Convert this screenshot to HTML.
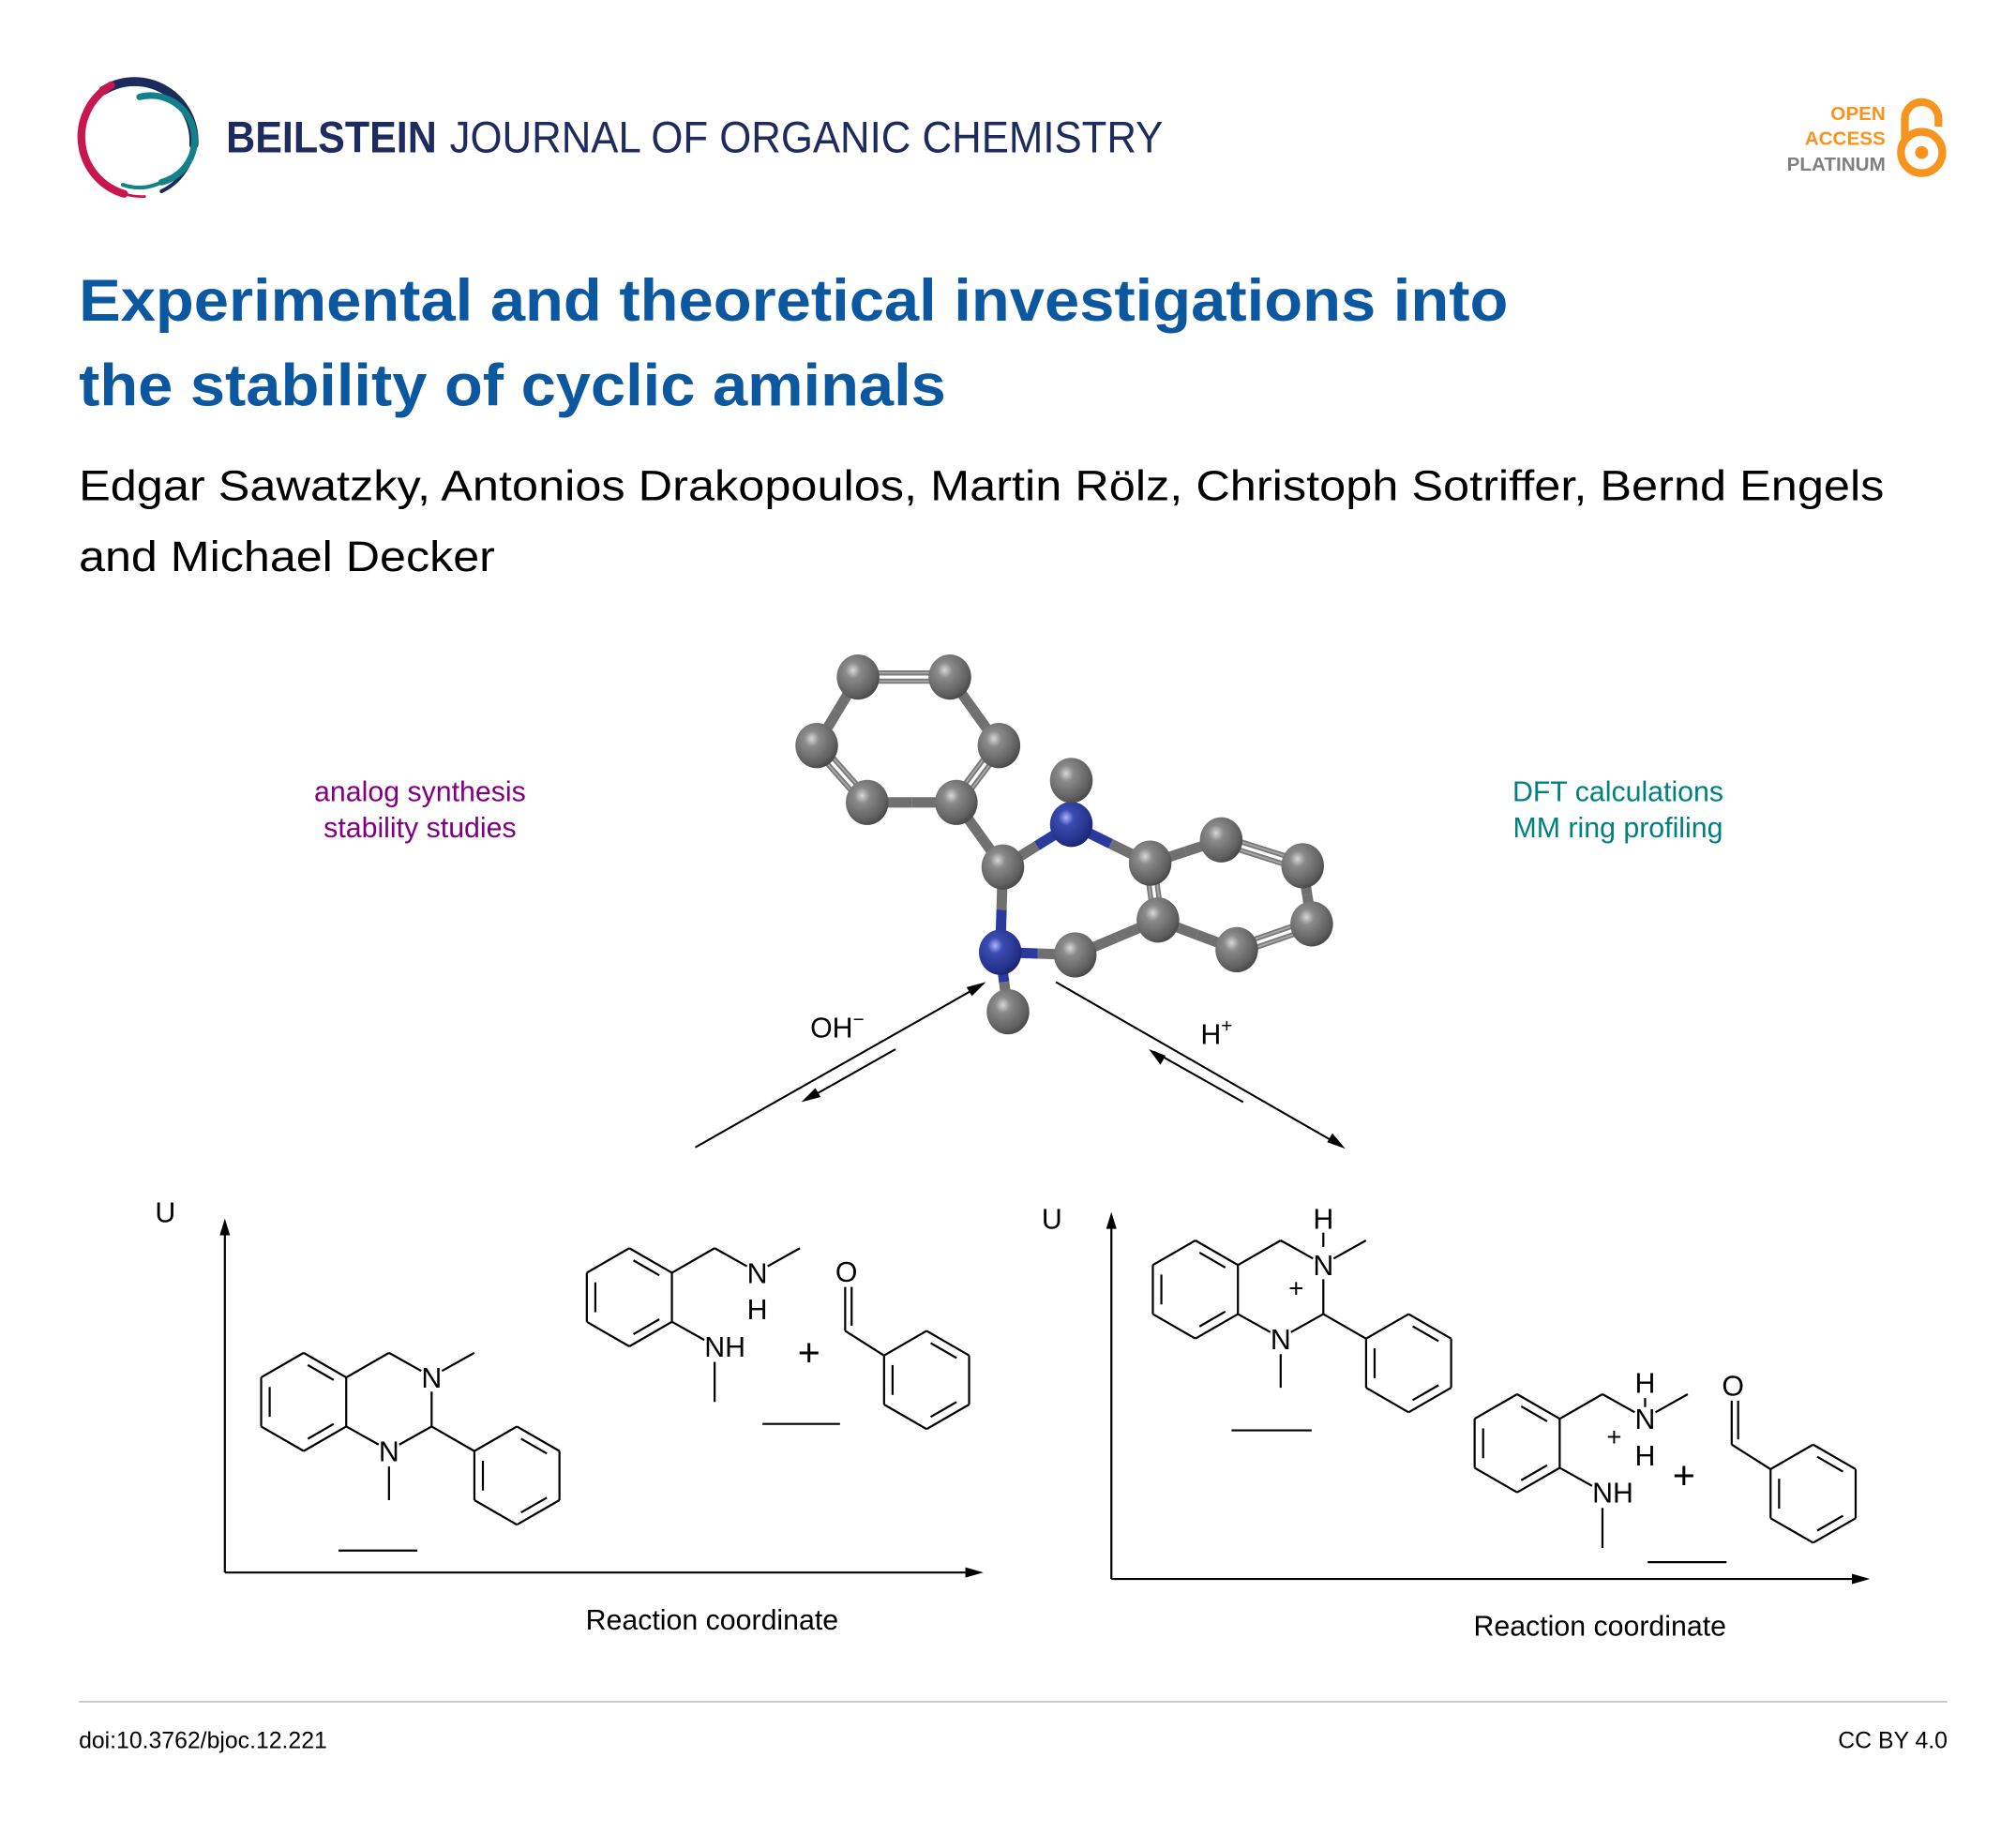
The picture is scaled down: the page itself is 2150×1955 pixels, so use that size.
<!DOCTYPE html>
<html><head><meta charset="utf-8">
<style>
html,body{margin:0;padding:0;background:#fff;}
svg{display:block;}
text{font-family:"Liberation Sans",Arial,sans-serif;}
</style></head>
<body>
<svg id="s" xmlns="http://www.w3.org/2000/svg" width="2150" height="1955" viewBox="0 0 1560 1418.6" preserveAspectRatio="none">
<defs>
<radialGradient id="gC" cx="0.38" cy="0.35" r="0.7">
<stop offset="0" stop-color="#d8d8d8"/><stop offset="0.25" stop-color="#8a8a8a"/><stop offset="0.8" stop-color="#5e5e5e"/><stop offset="1" stop-color="#444"/>
</radialGradient>
<radialGradient id="gN" cx="0.38" cy="0.35" r="0.7">
<stop offset="0" stop-color="#aab4ff"/><stop offset="0.25" stop-color="#3a4cb0"/><stop offset="0.8" stop-color="#24308a"/><stop offset="1" stop-color="#1a2266"/>
</radialGradient>
</defs>
<rect width="1560" height="1418.6" fill="#fff"/>
<!-- logo -->
<g fill="none" stroke-linecap="round">
<path d="M80 70 A46 46 0 0 1 150 112" stroke="#1d2a5c" stroke-width="7"/>
<path d="M150 112 A44 44 0 0 1 125 148" stroke="#1d2a5c" stroke-width="3"/>
<path d="M86 66 A46 46 0 0 0 96 150" stroke="#c8174e" stroke-width="6"/>
<path d="M96 150 A44 44 0 0 0 112 152" stroke="#c8174e" stroke-width="2"/>
<path d="M108 75 A34 34 0 0 1 125 141" stroke="#12818a" stroke-width="5"/>
<path d="M125 141 A38 38 0 0 1 95 143" stroke="#12818a" stroke-width="3"/>
</g>
<text x="175" y="118" font-size="34" font-weight="bold" fill="#1e2b5e" textLength="163" lengthAdjust="spacingAndGlyphs">BEILSTEIN</text>
<text x="348" y="118" font-size="34" fill="#1e2b5e" textLength="552" lengthAdjust="spacingAndGlyphs">JOURNAL OF ORGANIC CHEMISTRY</text>
<!-- OA -->
<g font-size="15" font-weight="bold" text-anchor="end">
<text x="1459" y="93" fill="#f7941d">OPEN</text>
<text x="1459" y="112" fill="#f7941d">ACCESS</text>
<text x="1459" y="132" fill="#808080">PLATINUM</text>
</g>
<g fill="none" stroke="#f7941d" stroke-width="6">
<path d="M1474 110 L1474 92 A13 13 0 0 1 1500 92 L1500 98"/>
<circle cx="1487" cy="118" r="16"/>
</g>
<circle cx="1487" cy="118" r="5" fill="#f7941d"/>
<!-- title -->
<text x="61" y="248" font-size="46" font-weight="bold" fill="#0b57a0" textLength="1106" lengthAdjust="spacingAndGlyphs">Experimental and theoretical investigations into</text>
<text x="61" y="314" font-size="46" font-weight="bold" fill="#0b57a0" textLength="671" lengthAdjust="spacingAndGlyphs">the stability of cyclic aminals</text>
<text x="61" y="387" font-size="33" fill="#000" textLength="1397" lengthAdjust="spacingAndGlyphs">Edgar Sawatzky, Antonios Drakopoulos, Martin Rölz, Christoph Sotriffer, Bernd Engels</text>
<text x="61" y="442" font-size="33" fill="#000" textLength="322" lengthAdjust="spacingAndGlyphs">and Michael Decker</text>
<!-- side labels -->
<g font-size="22" text-anchor="middle">
<text x="325" y="620" fill="#800080">analog synthesis</text>
<text x="325" y="648" fill="#800080">stability studies</text>
<text x="1252" y="620" fill="#008080">DFT calculations</text>
<text x="1252" y="648" fill="#008080">MM ring profiling</text>
</g>
<g id="mol"></g>
<g id="chem" stroke="#000" stroke-width="1.6" fill="none"></g>
<g id="lab" font-size="22" fill="#000" text-anchor="middle"></g>
<!-- arrows -->
<g stroke="#000" stroke-width="1.5" fill="none">
<line x1="538" y1="888" x2="760" y2="762"/>
<line x1="693" y1="812" x2="624" y2="851"/>
<line x1="817" y1="760" x2="1038" y2="887"/>
<line x1="962" y1="853" x2="893" y2="814"/>
</g>
<g fill="#000">
<path d="M763 760 L748 764 L752 771 Z"/>
<path d="M620 853 L635 849 L631 842 Z"/>
<path d="M1041 889 L1031 877 L1027 884 Z"/>
<path d="M889 812 L898 824 L902 817 Z"/>
</g>
<text x="627" y="803" font-size="22">OH<tspan font-size="15" dy="-9">−</tspan></text>
<text x="929" y="808" font-size="22">H<tspan font-size="15" dy="-9">+</tspan></text>
<!-- axes -->
<g stroke="#000" stroke-width="1.6">
<line x1="174" y1="1217" x2="174" y2="950"/>
<line x1="174" y1="1217" x2="752" y2="1217"/>
<line x1="860" y1="1222" x2="860" y2="945"/>
<line x1="860" y1="1222" x2="1438" y2="1222"/>
</g>
<g fill="#000">
<path d="M174 943 L170 956 L178 956 Z"/>
<path d="M761 1217 L747 1213 L747 1221 Z"/>
<path d="M860 938 L856 951 L864 951 Z"/>
<path d="M1447 1222 L1433 1218 L1433 1226 Z"/>
</g>
<g font-size="22">
<text x="120" y="946">U</text>
<text x="806" y="951">U</text>
<text x="551" y="1261" text-anchor="middle">Reaction coordinate</text>
<text x="1238" y="1266" text-anchor="middle">Reaction coordinate</text>
</g>
<!-- footer -->
<line x1="61" y1="1317" x2="1507" y2="1317" stroke="#cccccc" stroke-width="1.5"/>
<text x="61" y="1353" font-size="18">doi:10.3762/bjoc.12.221</text>
<text x="1507" y="1353" font-size="18" text-anchor="end">CC BY 4.0</text>
<script>
(function(){
var NS="http://www.w3.org/2000/svg";
function el(p,n,a,t){var e=document.createElementNS(NS,n);for(var k in a)e.setAttribute(k,a[k]);if(t!=null)e.textContent=t;p.appendChild(e);return e;}
var mol=document.getElementById('mol'),chem=document.getElementById('chem'),lab=document.getElementById('lab');
// 3D molecule
var A={a1:[664,524],a2:[735,524],a3:[632,577],a4:[773,577],a5:[671,621],a6:[740,621],c2:[776,671],n1:[829,638],m1:[829,604],
c8a:[890,668],c8:[945,650],c7:[1008,670],c6:[1015,715],c5:[957,735],c4a:[896,712],c4:[832,739],n3:[774,737],m3:[780,783]};
var B=[["a1","a2",2],["a2","a4",1],["a4","a6",2],["a6","a5",1],["a5","a3",2],["a3","a1",1],["a6","c2",1],["c2","n1",1],["n1","m1",1],
["n1","c8a",1],["c8a","c8",1],["c8","c7",2],["c7","c6",1],["c6","c5",2],["c5","c4a",1],["c4a","c8a",2],["c4a","c4",1],["c4","n3",1],["n3","c2",1],["n3","m3",1]];
function col(k){return k[0]=='n'?'#2a3a9e':'#707070';}
B.forEach(function(b){var p=A[b[0]],q=A[b[1]];var mx=(p[0]+q[0])/2,my=(p[1]+q[1])/2;
 if(b[2]==2){var dx=q[0]-p[0],dy=q[1]-p[1],L=Math.hypot(dx,dy),ox=-dy/L*3.2,oy=dx/L*3.2;
  [1,-1].forEach(function(s){el(mol,'line',{x1:p[0]+ox*s,y1:p[1]+oy*s,x2:q[0]+ox*s,y2:q[1]+oy*s,stroke:'#7a7a7a','stroke-width':4});});
  [1,-1].forEach(function(s){el(mol,'line',{x1:p[0]+ox*s,y1:p[1]+oy*s,x2:q[0]+ox*s,y2:q[1]+oy*s,stroke:'#aaa','stroke-width':1.2});});
 } else {
  el(mol,'line',{x1:p[0],y1:p[1],x2:mx,y2:my,stroke:col(b[0]),'stroke-width':8});
  el(mol,'line',{x1:mx,y1:my,x2:q[0],y2:q[1],stroke:col(b[1]),'stroke-width':8});
 }});
for(var k in A){var p=A[k];el(mol,'ellipse',{cx:p[0],cy:p[1],rx:16.5,ry:17.5,fill:k[0]=='n'?'url(#gN)':'url(#gC)'});}
// 2D chemistry
function L(a,b,c,d){el(chem,'line',{x1:a,y1:b,x2:c,y2:d});}
function hex(cx,cy,r,dbl){var v=[];for(var i=0;i<6;i++){var an=(-90+60*i)*Math.PI/180;v.push([cx+r*Math.cos(an),cy+r*Math.sin(an)]);}
 for(var i=0;i<6;i++){var p=v[i],q=v[(i+1)%6];L(p[0],p[1],q[0],q[1]);
  if(dbl.indexOf(i)>=0){var f=0.2,mx=(cx),my=(cy);var s=0.8;
   var p2=[cx+(p[0]-cx)*s,cy+(p[1]-cy)*s],q2=[cx+(q[0]-cx)*s,cy+(q[1]-cy)*s];
   var ax=p2[0]+(q2[0]-p2[0])*0.12,ay=p2[1]+(q2[1]-p2[1])*0.12,bx=p2[0]+(q2[0]-p2[0])*0.88,by=p2[1]+(q2[1]-p2[1])*0.88;L(ax,ay,bx,by);}}
 return v;}
// edges: 0 t-ur,1 ur-lr,2 lr-b,3 b-ll,4 ll-ul,5 ul-t
function T(x,y,t,fs){el(lab,'text',{x:x,y:y,'font-size':fs||22},t);}
function struct1(dx,dy,prot){
 hex(235+dx,1085+dy,38,[0,2,4]);
 L(268+dx,1066+dy,301+dx,1047+dy);L(301+dx,1047+dy,326+dx,1061+dy);
 L(342+dx,1061+dy,367+dx,1047+dy);
 L(334+dx,1077+dy,334+dx,1104+dy);
 L(334+dx,1104+dy,309+dx,1118+dy);L(293+dx,1118+dy,268+dx,1104+dy);
 L(301+dx,1135+dy,301+dx,1161+dy);
 L(334+dx,1104+dy,367+dx,1123+dy);
 hex(400+dx,1142+dy,38,[0,2,4]);
 T(334+dx,1074+dy,'N');T(301+dx,1131+dy,'N');
 if(prot){L(334+dx,1041+dy,334+dx,1052+dy);T(334+dx,1038+dy,'H');T(313+dx,1091+dy,'+',20);}
}
struct1(0,0,false);struct1(690,-87,true);
L(262,1200,323,1200);L(953,1107,1015,1107);
function struct2(dx,dy,prot){
 hex(487+dx,1004+dy,38,[0,2,4]);
 L(520+dx,985+dy,553+dx,966+dy);L(553+dx,966+dy,578+dx,980+dy);
 L(594+dx,980+dy,619+dx,966+dy);
 L(520+dx,1023+dy,545+dx,1037+dy);
 L(553+dx,1054+dy,553+dx,1085+dy);
 T(586+dx,993+dy,'N');T(586+dx,1021+dy,'H');T(561+dx,1050+dy,'NH');
 if(prot){T(586+dx,965+dy,'H');L(586+dx,969+dy,586+dx,976+dy);T(562+dx,1006+dy,'+',20);}
}
struct2(0,0,false);struct2(687,113,true);
function ald(dx,dy){
 hex(717+dx,1068+dy,38,[0,2,4]);
 L(684+dx,1049+dy,654+dx,1030+dy);
 L(654+dx,1030+dy,654+dx,996+dy);L(659+dx,1026+dy,659+dx,996+dy);
 T(655+dx,992+dy,'O');
}
ald(0,0);ald(686,88);
// plus signs
T(626,1057,'+',30);T(1303,1152,'+',30);
L(590,1102,650,1102);L(1275,1209,1336,1209);
})();
</script>
</svg>
</body></html>
